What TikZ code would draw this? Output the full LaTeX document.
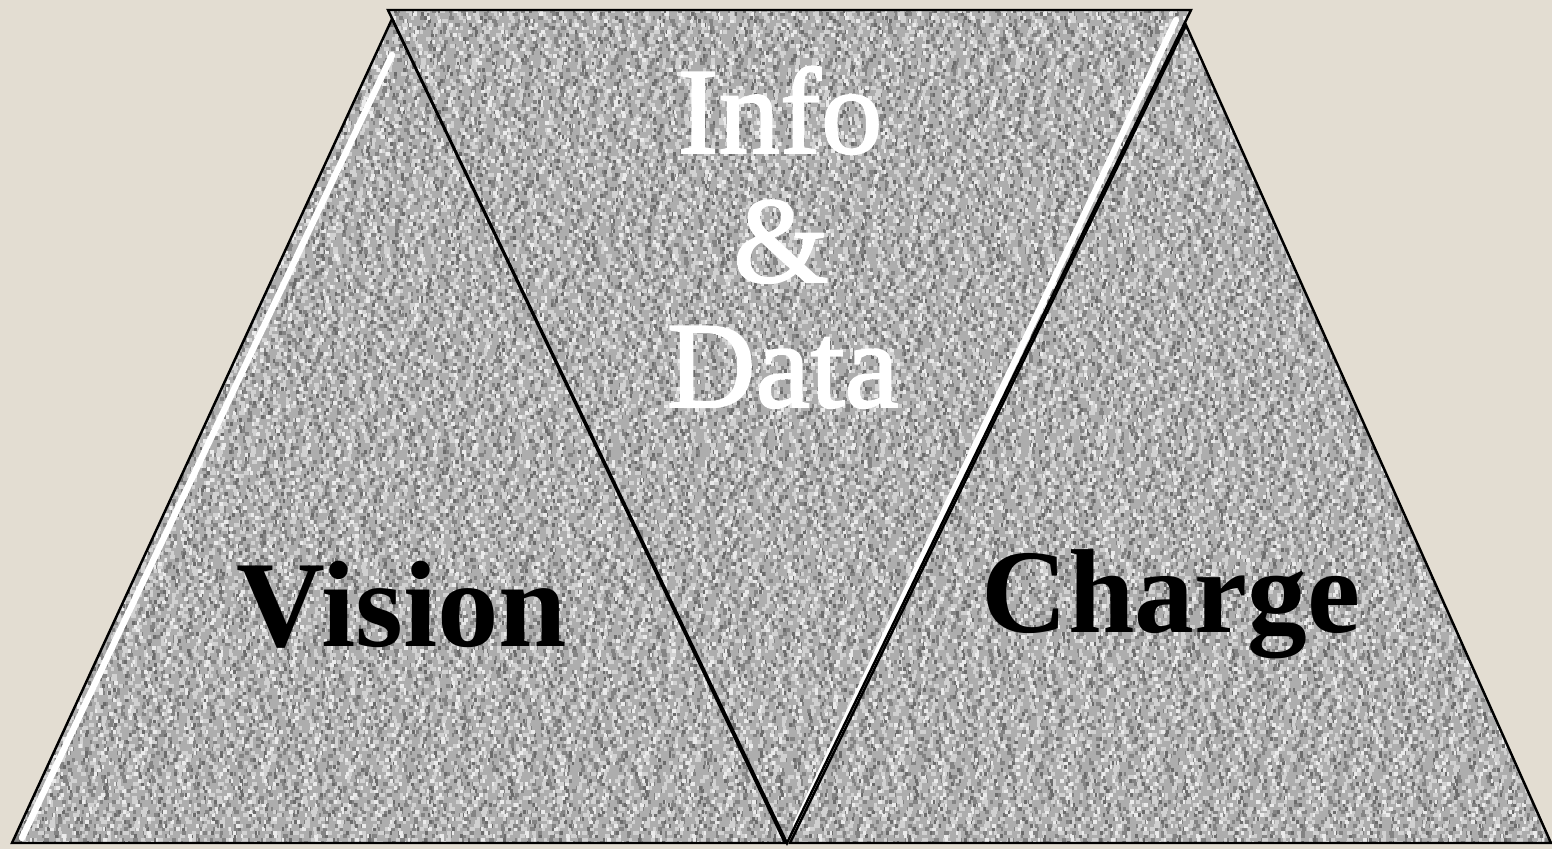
\documentclass[tikz,border=0pt]{standalone}
\usepackage{fontspec}
\setmainfont{Liberation Serif}
\newfontfamily\infofont{Liberation Serif}[FakeBold=1.6]
\definecolor{paper}{HTML}{E3DDD2}
\definecolor{granite}{HTML}{ADADAD}
\definecolor{graniteDark}{HTML}{838383}
\definecolor{graniteLight}{HTML}{D1D1D1}
\tikzset{
  slab/.style={draw=black, line width=0.7pt, line join=miter},
  shine/.style={white, line width=1.8pt, line cap=round},
  grain/.style={line width=0.4mm},
  bigword/.style={anchor=base, inner sep=0pt, font=\bfseries\fontsize{35}{36}\selectfont},
  lightword/.style={anchor=base, inner sep=0pt, text=white, font=\infofont\fontsize{35}{36}\selectfont},
}
\begin{document}
\begin{tikzpicture}
    \fill[paper] (0, 0) rectangle (15.52, 8.49) ;
    \useasboundingbox (0, 0) rectangle (15.52, 8.49) ;
    \coordinate (A) at (0.12, 0.06) ;
    \coordinate (B) at (3.92, 8.30) ;
    \coordinate (C) at (7.85, 0.06) ;
    \coordinate (D) at (3.88, 8.39) ;
    \coordinate (E) at (11.91, 8.39) ;
    \coordinate (F) at (7.87, 0.06) ;
    \coordinate (G) at (7.90, 0.06) ;
    \coordinate (H) at (11.86, 8.24) ;
    \coordinate (I) at (15.51, 0.06) ;
    \fill[granite] (A) -- (B) -- (C) -- cycle (D) -- (E) -- (F) -- cycle (G) -- (H) -- (I) -- cycle ;
    \begin{scope}
      \clip (A) -- (B) -- (C) -- cycle (D) -- (E) -- (F) -- cycle (G) -- (H) -- (I) -- cycle ;
      \pgfmathsetseed{42}
      \foreach \y in {0.02,0.055,...,8.49} {
        \pgfmathsetmacro\pa{rnd*0.9}
        \pgfmathsetmacro\pb{rnd*0.9}
        \pgfmathsetmacro\pc{rnd*1.3}
        \pgfmathsetmacro\pd{rnd*1.3}
        \draw[grain, graniteDark, dash pattern=on 0.4mm off 1.3mm on 0.3mm off 0.9mm on 0.5mm off 2.1mm on 0.2mm off 1.1mm on 0.4mm off 1.7mm, dash phase=\pa cm] (0, \y) -- (15.52, \y) ;
        \draw[grain, graniteLight, dash pattern=on 0.5mm off 0.8mm on 0.3mm off 1.9mm on 0.4mm off 1.2mm on 0.6mm off 1.5mm on 0.3mm off 1.0mm, dash phase=\pb cm] (0, \y) -- (15.52, \y) ;
        \draw[grain, black!58, dash pattern=on 0.3mm off 4.1mm on 0.2mm off 3.3mm on 0.3mm off 5.3mm, dash phase=\pc cm] (0, \y) -- (15.52, \y) ;
        \draw[grain, white!92!black, dash pattern=on 0.3mm off 3.7mm on 0.4mm off 4.9mm on 0.2mm off 3.1mm, dash phase=\pd cm] (0, \y) -- (15.52, \y) ;
      }
    \end{scope}
    \draw[shine] (0.22, 0.11) -- (3.92, 7.94) ;
    \draw[shine] (11.76, 8.29) -- (7.96, 0.24) ;
    \draw[slab] (A) -- (B) -- (C) -- cycle ;
    \draw[slab] (D) -- (E) -- (F) -- cycle ;
    \draw[slab] (G) -- (H) -- (I) -- cycle ;
    \node[bigword] (vision) at (4.02, 2.02) {Vision} ;
    \node[bigword, font=\bfseries\fontsize{34}{36}\selectfont] (charge) at (11.71, 2.16) {Charge} ;
    \node[lightword] (info) at (7.80, 6.96) {Info} ;
    \node[lightword] (amp) at (7.81, 5.67) {\&} ;
    \node[lightword] (data) at (7.83, 4.42) {Data} ;
  \end{tikzpicture}
\end{document}
